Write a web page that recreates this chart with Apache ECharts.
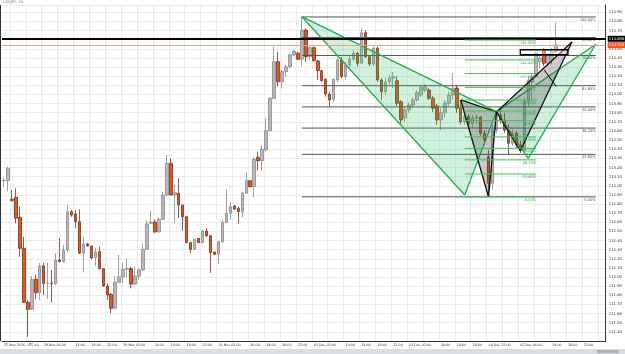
<!DOCTYPE html>
<html><head><meta charset="utf-8">
<script src="https://cdn.jsdelivr.net/npm/echarts@6/dist/echarts.min.js"></script>
<style>html,body{margin:0;padding:0;background:#fff}#c{width:625px;height:354px}</style>
</head><body><div id="c"></div>
<script>
// hourly sessions: [day, firstHour, lastHour]
const sessions = [['25 Nov',18,21],['28 Nov',0,23],['29 Nov',0,23],['30 Nov',0,23],['01 Dec',0,23],['02 Dec',0,21],['04 Dec',22,23],['05 Dec',0,23],['06 Dec',0,3]];
const tickIndex = [0,10,18,22,26,30,38,42,46,50,54,62,66,70,74,78,86,90,94,98,102,110,114,118,122,130,138,142,146];
const tickText = ['25 Nov 2016, UTC+0','28 Nov 06:00','14:00','18:00','22:00','29 Nov 02:00','10:00','14:00','18:00','22:00','30 Nov 02:00','10:00','14:00','18:00','22:00','01 Dec 02:00','10:00','14:00','18:00','22:00','02 Dec 02:00','10:00','14:00','18:00','04 Dec 22:00','05 Dec 06:00','14:00','18:00','22:00'];

const opens  = [113.056,113.056,112.852,112.874,112.655,112.315,111.724,111.647,111.976,111.829,112.122,111.932,111.932,111.932,112.187,112.169,112.297,112.716,112.691,112.607,112.261,112.363,112.341,112.212,112.278,112.092,111.902,111.812,111.658,111.943,112.004,112.085,112.092,111.924,112.012,112.078,112.304,112.589,112.603,112.494,112.633,112.899,113.246,112.899,112.918,112.790,112.661,112.377,112.304,112.425,112.377,112.505,112.453,112.275,112.250,112.388,112.600,112.699,112.779,112.753,112.716,112.918,113.056,112.990,113.312,113.275,113.392,113.603,113.958,114.359,114.140,114.250,114.304,114.433,114.451,114.386,114.706,114.414,114.513,114.367,114.261,114.166,114.005,113.947,114.159,114.378,114.195,114.323,114.386,114.451,114.342,114.677,114.414,114.334,114.506,114.159,114.031,114.137,114.180,114.150,113.921,113.743,113.830,113.885,113.940,113.994,114.049,114.049,113.958,113.874,113.721,113.800,113.904,113.994,114.071,113.850,113.700,113.757,113.685,113.743,113.753,113.575,113.319,113.027,113.611,113.775,113.721,113.611,113.465,113.575,113.447,113.392,113.921,114.137,114.195,114.360,114.495,114.345,114.380,114.469];
const highs  = [113.085,113.209,112.954,112.973,112.771,112.442,111.749,112.012,112.023,112.154,112.154,112.154,112.078,112.264,112.431,112.352,112.790,112.735,112.735,112.743,112.442,112.377,112.341,112.315,112.333,112.096,111.932,111.829,112.012,112.242,112.158,112.206,112.114,112.114,112.096,112.370,112.625,112.727,112.633,112.655,112.935,113.337,113.301,113.009,113.082,112.790,112.669,112.388,112.421,112.428,112.516,112.534,112.461,112.278,112.395,112.625,112.954,112.826,112.790,112.771,112.935,113.154,113.063,113.312,113.373,113.447,113.739,113.973,114.524,114.469,114.268,114.323,114.451,114.487,114.469,114.852,114.725,114.524,114.524,114.378,114.268,114.177,114.031,114.177,114.396,114.411,114.356,114.422,114.487,114.469,114.725,114.706,114.433,114.524,114.524,114.180,114.180,114.214,114.246,114.200,113.940,113.874,113.918,113.973,114.049,114.104,114.115,114.071,113.984,113.896,113.850,113.940,114.027,114.235,114.100,113.940,113.808,113.786,113.776,113.786,113.760,113.611,113.392,113.666,113.830,113.852,113.797,113.677,113.611,113.600,113.491,113.962,114.202,114.235,114.469,114.430,114.506,114.455,114.509,114.786];
const lows   = [112.987,112.935,112.826,112.589,112.223,111.716,111.347,111.640,111.757,111.749,111.804,111.760,111.720,111.914,112.162,112.158,112.278,112.661,112.534,112.253,112.052,112.333,112.195,112.122,112.085,111.895,111.749,111.603,111.650,111.939,111.932,111.998,111.877,111.914,111.968,112.070,112.297,112.582,112.486,112.486,112.625,112.888,112.895,112.596,112.644,112.508,112.370,112.261,112.297,112.374,112.370,112.442,112.048,112.242,112.143,112.377,112.589,112.625,112.735,112.589,112.655,112.910,112.984,112.874,113.165,113.165,113.373,113.600,113.947,114.085,114.068,114.195,114.287,114.425,114.378,114.305,114.359,114.378,114.359,114.159,114.140,113.976,113.866,113.921,114.140,114.180,114.159,114.301,114.367,114.305,114.334,114.400,114.312,114.312,114.140,113.940,113.994,114.093,114.071,113.874,113.677,113.699,113.797,113.852,113.918,113.973,114.027,113.940,113.808,113.666,113.611,113.750,113.874,113.940,113.800,113.670,113.666,113.655,113.633,113.677,113.545,113.447,112.881,112.954,113.578,113.677,113.578,113.337,113.436,113.414,113.359,113.380,113.874,113.940,114.180,114.290,114.312,114.312,114.330,114.455];
const closes = [113.058,113.192,112.840,112.644,112.315,111.724,111.647,111.976,111.829,112.122,111.932,111.935,111.930,112.187,112.169,112.297,112.716,112.680,112.607,112.261,112.363,112.341,112.209,112.275,112.092,111.902,111.804,111.658,111.943,112.004,112.085,112.096,111.924,112.012,112.078,112.304,112.582,112.603,112.494,112.633,112.899,113.246,112.899,112.924,112.790,112.661,112.377,112.304,112.414,112.377,112.505,112.453,112.267,112.250,112.388,112.600,112.699,112.771,112.746,112.716,112.918,113.056,112.990,113.290,113.275,113.400,113.603,113.958,114.359,114.140,114.250,114.304,114.433,114.476,114.386,114.706,114.414,114.513,114.370,114.261,114.151,114.005,113.940,114.166,114.378,114.195,114.323,114.386,114.451,114.342,114.677,114.414,114.334,114.506,114.159,114.031,114.137,114.180,114.195,113.904,113.721,113.830,113.885,113.940,114.020,114.079,114.085,113.958,113.849,113.721,113.800,113.907,113.994,114.071,113.850,113.700,113.757,113.685,113.743,113.753,113.575,113.502,113.027,113.611,113.775,113.721,113.611,113.465,113.575,113.447,113.392,113.921,114.159,114.195,114.451,114.400,114.342,114.422,114.469,114.542];

// harmonic patterns: points X, A, B, C, D as [bar index, price]
const greenPattern = [[75,114.852],[115.75,112.899],[124,113.812],[131.5,113.301],[148.75,114.550]];
const blackPattern = [[115.25,113.940],[121.5,112.877],[124,113.808],[130.25,113.381],[142.75,114.575]];
// fibonacci tools
const grayFibLabels = ['0.00%','23.60%','38.20%','50.00%','61.80%','78.60%','88.60%','100.00%'];
const grayFibPrices = [112.879,113.344,113.632,113.864,114.096,114.427,114.624,114.849];
const grayFibSpan = [75,149];
const greenFibLabels = ['0.00%','23.60%','38.20%','50.00%','61.80%','78.60%','88.60%','100.00%','113.00%','127.20%','141.40%','161.80%'];
const greenFibPrices = [112.879,113.129,113.284,113.410,113.535,113.713,113.819,113.940,114.078,114.229,114.379,114.596];
const greenFibSpan = [116,134];
const boxCorners = [[129.75,114.490],[141.75,114.435]];
const crossLine = [[135.5,114.27],[138.5,114.09]];
const blackLevel = 114.606;
const lastPrice = 114.542;

const categories = [];
sessions.forEach(s => { for (let h = s[1]; h <= s[2]; h++) categories.push(s[0] + ' ' + String(h).padStart(2,'0') + ':00'); });
const candleData = opens.map((o,i) => [o, closes[i], lows[i], highs[i]]);

const FONT = 'DejaVu Sans';
function patternItem(points, stroke, fill) {
  return function (params, api) {
    const p = points.map(v => api.coord(v));
    const tri = (a,b,c) => ({type:'polygon', shape:{points:[p[a],p[b],p[c]]}, style:{fill:fill, stroke:null}});
    const ln = (a,b) => ({type:'line', shape:{x1:p[a][0],y1:p[a][1],x2:p[b][0],y2:p[b][1]}, style:{stroke:stroke, lineWidth:1.3}});
    return {type:'group', children:[tri(0,1,2), tri(2,3,4), ln(0,1), ln(1,2), ln(0,2), ln(2,3), ln(3,4), ln(2,4)]};
  };
}
function fibItem(prices, labels, span, lineColor, textColor) {
  return function (params, api) {
    const ch = [];
    prices.forEach((pr, i) => {
      const a = api.coord([span[0], pr]), b = api.coord([span[1], pr]);
      ch.push({type:'line', shape:{x1:a[0],y1:a[1],x2:b[0],y2:b[1]}, style:{stroke:lineColor, lineWidth:1}});
      ch.push({type:'text', style:{text:labels[i], x:b[0], y:b[1]+1, fill:textColor, fontSize:3.6, fontFamily:FONT, align:'right', verticalAlign:'top'}});
    });
    return {type:'group', children:ch};
  };
}
function extrasItem(params, api) {
  const a = api.coord(boxCorners[0]), b = api.coord(boxCorners[1]);
  const c1 = api.coord(crossLine[0]), c2 = api.coord(crossLine[1]);
  return {type:'group', children:[
    {type:'rect', shape:{x:a[0], y:a[1], width:b[0]-a[0], height:b[1]-a[1]}, style:{fill:'rgba(255,255,255,0.35)', stroke:'#000', lineWidth:1.3}},
    {type:'line', shape:{x1:c1[0],y1:c1[1],x2:c2[0],y2:c2[1]}, style:{stroke:'#000', lineWidth:1}}
  ]};
}

const chart = echarts.init(document.getElementById('c'), null, {renderer:'canvas'});
chart.setOption({
  animation:false,
  backgroundColor:'#fff',
  grid:{left:2, right:17, top:5, bottom:13},
  xAxis:{
    type:'category', data:categories, boundaryGap:true,
    axisLine:{show:true, lineStyle:{color:'#333', width:1}},
    axisTick:{show:false, alignWithLabel:true},
    axisLabel:{interval:(i)=>tickIndex.indexOf(i)>=0, formatter:(v,i)=>{const k=tickIndex.indexOf(i);return k>=0?tickText[k]:'';}, fontSize:3.3, fontFamily:FONT, color:'#333', align:'left', margin:3},
    splitLine:{show:true, interval:(i)=>i%4===2, lineStyle:{color:'#ececec', width:1}}
  },
  yAxis:{
    type:'value', position:'right', min:111.3, max:114.98, interval:0.1, scale:true,
    axisLine:{show:true, lineStyle:{color:'#333', width:1}},
    axisTick:{show:false},
    axisLabel:{fontSize:3.8, fontFamily:FONT, color:'#333', margin:3, showMinLabel:false, showMaxLabel:false, formatter:(v)=>v.toFixed(2)},
    splitLine:{show:true, lineStyle:{color:'#ececec', width:1}}
  },
  series:[
    {type:'candlestick', data:candleData, barWidth:3,
     itemStyle:{color:'#b8b8b8', color0:'#f4500e', borderColor:'#8c8c8c', borderColor0:'#6b3a26', borderWidth:0.8},
     markLine:{symbol:'none', silent:true, animation:false,
       data:[
         {yAxis:blackLevel, lineStyle:{color:'#000', width:2, type:'solid'}, label:{show:true, position:'end', formatter:blackLevel.toFixed(3), color:'#fff', backgroundColor:'#000', fontSize:3.8, fontFamily:FONT, padding:[1,1], distance:2}},
         {yAxis:lastPrice, lineStyle:{color:'#e9a27f', width:1, type:'solid'}, label:{show:true, position:'end', formatter:lastPrice.toFixed(3), color:'#fff', backgroundColor:'#f4511e', fontSize:3.8, fontFamily:FONT, padding:[1,1], distance:2}}
       ]}
    },
    {type:'custom', coordinateSystem:'cartesian2d', data:[[0,113]], silent:true, z:3, renderItem:fibItem(grayFibPrices, grayFibLabels, grayFibSpan, '#555', '#555')},
    {type:'custom', coordinateSystem:'cartesian2d', data:[[0,113]], silent:true, z:4, renderItem:patternItem(greenPattern, '#1fae4b', 'rgba(46,190,100,0.22)')},
    {type:'custom', coordinateSystem:'cartesian2d', data:[[0,113]], silent:true, z:5, renderItem:patternItem(blackPattern, '#111', 'rgba(70,70,70,0.28)')},
    {type:'custom', coordinateSystem:'cartesian2d', data:[[0,113]], silent:true, z:6, renderItem:fibItem(greenFibPrices, greenFibLabels, greenFibSpan, '#3cc35a', '#2fa84c')},
    {type:'custom', coordinateSystem:'cartesian2d', data:[[0,113]], silent:true, z:7, renderItem:extrasItem}
  ],
  graphic:[
    {type:'text', left:3, top:0, style:{text:'USDJPY, 1h', fill:'#777', fontSize:3.6, fontFamily:FONT}},
    {type:'line', shape:{x1:0.5, y1:5, x2:0.5, y2:341}, style:{stroke:'#333', lineWidth:1}},
    {type:'rect', shape:{x:0, y:349, width:625, height:5}, style:{fill:'#d9dee3'}},
    {type:'rect', shape:{x:597, y:350, width:22, height:3}, style:{fill:'#a8b2bc'}}
  ]
});
</script></body></html>
